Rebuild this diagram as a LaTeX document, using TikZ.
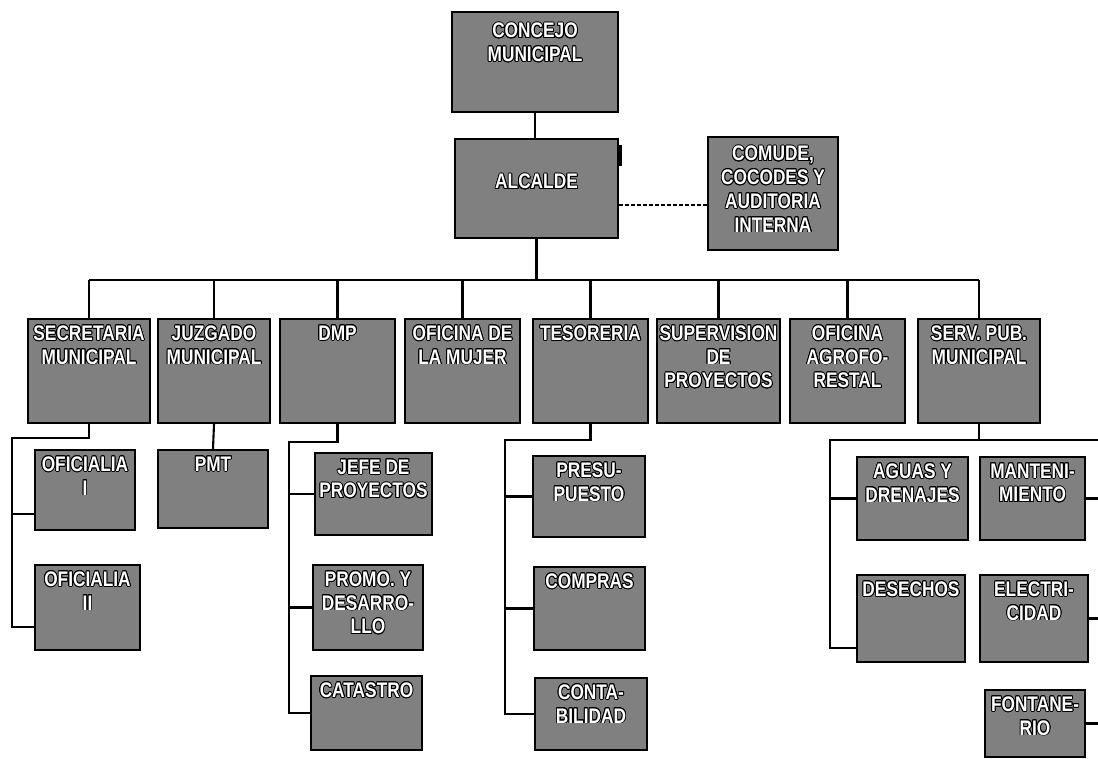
\documentclass[tikz,border=0pt]{standalone}
\usepackage{fontspec}
\newfontfamily\unitfont[FakeStretch=0.82]{Liberation Sans}
\usepackage[copies]{contour}
\contourlength{0.5pt}
\newcommand{\outl}[1]{\contour{black}{#1}}

\begin{document}
\begin{tikzpicture}[x=0.02cm, y=-0.02cm,
        unit/.style={draw=black, line width=1.4pt, fill=black!50, inner sep=0pt},
        unittext/.style={anchor=north, align=center, text=white, inner sep=0pt, yshift=-0.15cm,
            font=\unitfont\bfseries\fontsize{12}{13.5}\selectfont},
        conn/.style={line width=1.2pt, black}]
    \useasboundingbox (0,0) rectangle (1098,759);

    % 1. Concejo, alcalde y comude
    \node[unit, minimum width=3.32cm, minimum height=2cm,
        label={[unittext, yshift=-0.09cm]north:{\outl{CONCEJO}\\\outl{MUNICIPAL}}}] (concejo) at (535,62) {};
    \node[unit, minimum width=3.26cm, minimum height=1.98cm,
        label={[unittext, yshift=-0.57cm]north:{\outl{ALCALDE}}}] (alcalde) at (536.5,188.5) {};
    \node[unit, minimum width=2.6cm, minimum height=2.26cm,
        label={[unittext, yshift=-0.05cm]north:{\outl{COMUDE,}\\\outl{COCODES Y}\\\outl{AUDITORIA}\\\outl{INTERNA}}}] (comude) at (773,193.5) {};
    \fill (618,145) rectangle (622,166);

    % 2. Dependencias del alcalde
    \node[unit, minimum width=2.44cm, minimum height=2.08cm,
        label={[unittext]north:{\outl{SECRETARIA}\\\outl{MUNICIPAL}}}] (secr) at (89,371) {};
    \node[unit, minimum width=2.24cm, minimum height=2.08cm,
        label={[unittext]north:{\outl{JUZGADO}\\\outl{MUNICIPAL}}}] (juzg) at (214,371) {};
    \node[unit, minimum width=2.3cm, minimum height=2.08cm,
        label={[unittext]north:{\outl{DMP}}}] (dmp) at (337.5,371) {};
    \node[unit, minimum width=2.3cm, minimum height=2.08cm,
        label={[unittext]north:{\outl{OFICINA DE}\\\outl{LA MUJER}}}] (mujer) at (462.5,371) {};
    \node[unit, minimum width=2.3cm, minimum height=2.08cm,
        label={[unittext]north:{\outl{TESORERIA}}}] (teso) at (590.5,371) {};
    \node[unit, minimum width=2.46cm, minimum height=2.08cm,
        label={[unittext]north:{\outl{SUPERVISION}\\\outl{DE}\\\outl{PROYECTOS}}}] (superv) at (718.5,371) {};
    \node[unit, minimum width=2.3cm, minimum height=2.08cm,
        label={[unittext]north:{\outl{OFICINA}\\\outl{AGROFO-}\\\outl{RESTAL}}}] (agro) at (847.5,371) {};
    \node[unit, minimum width=2.44cm, minimum height=2.08cm,
        label={[unittext]north:{\outl{SERV. PUB.}\\\outl{MUNICIPAL}}}] (serv) at (979,371) {};

    % 3. Tercer nivel
    \node[unit, minimum width=2cm, minimum height=1.6cm,
        label={[unittext]north:{\outl{OFICIALIA}\\\outl{I}}}] (oficI) at (85,490) {};
    \node[unit, minimum width=2.1cm, minimum height=1.7cm,
        label={[unittext]north:{\outl{OFICIALIA}\\\outl{II}}}] (oficII) at (87.5,607.5) {};
    \node[unit, minimum width=2.2cm, minimum height=1.56cm,
        label={[unittext]north:{\outl{PMT}}}] (pmt) at (213,489) {};
    \node[unit, minimum width=2.34cm, minimum height=1.64cm,
        label={[unittext]north:{\outl{JEFE DE}\\\outl{PROYECTOS}}}] (jefe) at (373.5,494) {};
    \node[unit, minimum width=2.2cm, minimum height=1.7cm,
        label={[unittext]north:{\outl{PROMO. Y}\\\outl{DESARRO-}\\\outl{LLO}}}] (promo) at (368,607.5) {};
    \node[unit, minimum width=2.22cm, minimum height=1.48cm,
        label={[unittext]north:{\outl{CATASTRO}}}] (catastro) at (366.5,713) {};
    \node[unit, minimum width=2.24cm, minimum height=1.62cm,
        label={[unittext]north:{\outl{PRESU-}\\\outl{PUESTO}}}] (presu) at (589,496.5) {};
    \node[unit, minimum width=2.22cm, minimum height=1.66cm,
        label={[unittext]north:{\outl{COMPRAS}}}] (compras) at (589.5,608.5) {};
    \node[unit, minimum width=2.24cm, minimum height=1.44cm,
        label={[unittext]north:{\outl{CONTA-}\\\outl{BILIDAD}}}] (conta) at (591,714) {};
    \node[unit, minimum width=2.22cm, minimum height=1.66cm,
        label={[unittext]north:{\outl{AGUAS Y}\\\outl{DRENAJES}}}] (aguas) at (912.5,498.5) {};
    \node[unit, minimum width=2.1cm, minimum height=1.66cm,
        label={[unittext]north:{\outl{MANTENI-}\\\outl{MIENTO}}}] (manten) at (1032.5,498.5) {};
    \node[unit, minimum width=2.16cm, minimum height=1.74cm,
        label={[unittext]north:{\outl{DESECHOS}}}] (desech) at (911,618.5) {};
    \node[unit, minimum width=2.16cm, minimum height=1.74cm,
        label={[unittext]north:{\outl{ELECTRI-}\\\outl{CIDAD}}}] (electri) at (1034,618.5) {};
    \node[unit, minimum width=2cm, minimum height=1.34cm,
        label={[unittext]north:{\outl{FONTANE-}\\\outl{RIO}}}] (fontane) at (1035,723.5) {};

    % 4. Lineas de mando
    \coordinate (bus) at (0,280);
    \draw[conn] (concejo.south) -- (concejo.south |- alcalde.north);
    \draw[conn] (alcalde.south) -- (alcalde.south |- bus);
    \draw[conn] (secr.north |- bus) -- (serv.north |- bus);
    \foreach \n in {secr,juzg,dmp,mujer,teso,superv,agro,serv}
        \draw[conn] (\n.north) -- (\n.north |- bus);
    \draw[conn, dashed, line width=1pt, dash pattern=on 2.2pt off 1.2pt]
        (comude.190) -- (alcalde.east |- comude.190);

    % secretaria
    \coordinate (secrL) at (12,438);
    \draw[conn] (secr.south) |- (secrL) |- (oficII.200);
    \draw[conn] (secrL |- oficI.205) -- (oficI.205);
    % juzgado
    \draw[conn] (juzg.south) -- (pmt.north);
    % dmp
    \coordinate (dmpL) at (289,442);
    \draw[conn] (dmp.south) |- (dmpL) |- (catastro.west);
    \draw[conn] (dmpL |- jefe.west) -- (jefe.west);
    \draw[conn] (dmpL |- promo.west) -- (promo.west);
    % tesoreria
    \coordinate (tesoL) at (505,440);
    \draw[conn] (teso.south) |- (tesoL) |- (conta.west);
    \draw[conn] (tesoL |- presu.west) -- (presu.west);
    \draw[conn] (tesoL |- compras.west) -- (compras.west);
    % servicios publicos
    \coordinate (servL) at (830,440);
    \coordinate (edgeR) at (1098,440);
    \draw[conn] (serv.south) -- (serv.south |- servL);
    \draw[conn] (edgeR) -- (servL) |- (desech.208);
    \draw[conn] (servL |- aguas.west) -- (aguas.west);
    \foreach \n in {manten,electri,fontane}
        \draw[conn] (\n.east) -- (\n.east -| edgeR);
\end{tikzpicture}
\end{document}
